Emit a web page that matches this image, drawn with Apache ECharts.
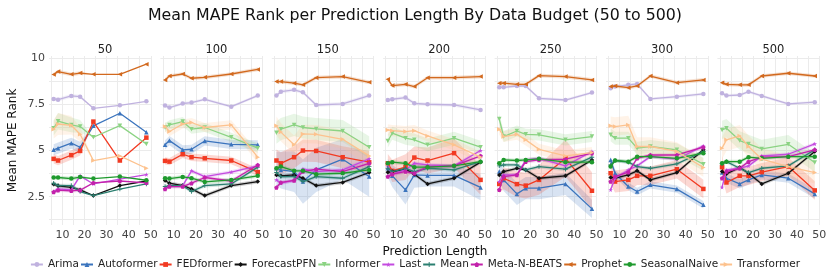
<!DOCTYPE html>
<html><head><meta charset="utf-8">
<script src="https://cdn.jsdelivr.net/npm/echarts@6/dist/echarts.min.js"></script>
<style>html,body{margin:0;padding:0;background:#fff}#c{width:830px;height:277px}</style>
</head><body><div id="c"></div>
<script>
const budgets = ['50','100','150','200','250','300','500'];
const predLengths = [6, 8, 14, 18, 24, 36, 48];
const xTickLabels = [10, 20, 30, 40, 50];
const yTickLabels = [2.5, 5, 7.5, 10];
const models = ['Arima','Autoformer','FEDformer','ForecastPFN','Informer','Last','Mean','Meta-N-BEATS','Prophet','SeasonalNaive','Transformer'];

const arima = [
 [7.80,7.76,7.96,7.92,7.29,7.45,7.67],[7.44,7.33,7.55,7.60,7.78,7.38,7.98],[7.98,8.19,8.29,8.16,7.47,7.53,7.98],
 [7.74,7.78,7.87,7.56,7.51,7.47,7.20],[8.43,8.43,8.50,8.50,7.83,7.74,8.14],[8.38,8.47,8.56,8.61,7.80,7.92,8.07],
 [8.10,7.98,8.01,8.19,7.96,7.53,7.62]];
const autoformer = [
 [5.04,5.13,5.40,5.18,6.34,7.02,5.99],[5.31,5.54,5.04,5.07,5.52,5.34,5.31],[4.04,3.95,3.86,3.32,3.95,4.53,3.59],
 [4.04,3.63,2.87,3.68,3.65,3.65,3.00],[3.86,3.41,2.65,2.96,2.96,3.19,1.84],[4.49,3.77,3.05,2.78,3.14,2.91,2.06],
 [3.81,3.50,3.19,3.41,3.68,3.50,2.65]];
const fedformer = [
 [4.55,4.46,4.75,4.98,6.57,4.46,5.70],[4.44,4.40,4.80,4.64,4.58,4.46,3.83],[4.46,4.31,4.64,5.00,4.98,4.64,4.37],
 [4.31,3.90,4.10,4.62,4.46,4.86,3.41],[3.19,3.50,3.18,3.10,3.41,4.58,2.82],[3.77,3.32,3.41,3.63,3.63,3.99,2.92],
 [4.10,3.27,3.63,3.63,3.83,4.13,2.84]];
const forecastPFN = [
 [3.18,3.09,3.00,2.87,2.56,3.10,3.35],[3.38,3.23,3.10,2.92,2.56,3.10,3.32],[3.68,3.63,3.68,3.50,3.10,3.27,3.81],
 [3.83,3.86,3.99,3.72,3.19,3.50,4.37],[3.68,3.86,4.04,3.95,3.50,3.63,4.49],[3.54,3.50,3.68,3.90,3.41,3.81,5.04],
 [3.86,3.74,4.08,3.77,3.19,3.77,4.95]];
const informer = [
 [6.21,6.59,6.39,6.30,5.72,6.35,5.36],[6.25,6.39,6.57,6.16,6.25,5.72,5.13],[5.97,6.16,6.39,6.25,6.17,6.06,5.18],
 [5.52,5.94,5.67,5.58,5.31,5.67,5.18],[6.71,5.76,6.06,5.88,5.85,5.58,5.76],[5.85,5.67,5.67,5.13,5.22,5.04,4.26],
 [6.12,6.21,5.54,5.36,5.09,5.34,4.35]];
const last = [
 [2.78,2.92,2.87,3.63,3.19,3.45,3.70],[2.92,3.10,3.10,3.90,3.59,3.83,4.17],[3.41,3.23,3.38,4.00,3.86,3.95,4.55],
 [4.13,3.72,3.95,4.31,4.22,4.17,5.00],[3.32,3.68,3.68,4.49,4.58,4.17,4.95],[2.87,3.50,3.95,4.17,4.67,4.53,5.25],
 [3.01,3.95,4.04,4.17,4.71,4.80,5.36]];
const mean = [
 [3.23,3.10,3.10,2.78,2.56,2.91,3.19],[3.05,3.10,3.10,2.78,3.10,3.19,4.10],[3.81,3.59,3.59,3.32,3.59,3.50,4.13],
 [4.04,3.86,4.04,3.86,4.04,3.95,4.40],[4.17,4.22,4.22,3.95,4.13,3.99,4.64],[4.22,4.46,4.37,4.13,4.04,4.28,4.95],
 [4.28,4.40,4.04,3.81,4.04,4.17,5.04]];
const metaNBeats = [
 [2.75,2.85,2.82,2.85,3.25,3.35,3.25],[2.92,3.05,3.05,3.23,3.54,3.35,4.22],[3.00,3.27,3.38,3.86,3.99,3.86,4.31],
 [3.59,3.72,3.86,3.77,4.13,4.17,4.71],[2.87,3.59,3.68,4.40,4.49,4.53,4.86],[3.32,3.59,3.83,4.58,4.76,4.76,5.18],
 [3.50,3.86,4.04,4.40,4.64,4.67,5.04]];
const prophet = [
 [9.12,9.28,9.13,9.20,9.13,9.13,9.68],[8.83,9.04,9.15,8.92,8.97,9.15,9.40],[8.74,8.74,8.65,8.56,8.95,9.01,8.70],
 [8.86,8.52,8.59,8.47,8.95,8.95,9.01],[8.65,8.65,8.59,8.59,9.06,9.01,8.83],[8.47,8.50,8.41,8.50,9.04,8.68,8.83],
 [8.68,8.59,8.56,8.56,9.04,9.19,9.04]];
const seasonalNaive = [
 [3.54,3.54,3.48,3.56,3.48,3.59,3.39],[3.50,3.48,3.57,3.50,3.30,3.41,3.63],[4.04,4.13,3.90,3.90,3.72,3.77,3.95],
 [4.31,4.37,4.31,4.10,4.10,4.17,4.40],[4.31,4.49,4.46,4.49,4.55,4.37,4.37],[4.13,4.46,4.40,4.67,4.67,4.58,4.86],
 [4.31,4.40,4.40,4.64,4.58,4.67,4.67]];
const transformer = [
 [6.16,6.44,6.37,5.88,4.46,4.71,4.04],[6.30,6.03,6.44,6.52,6.25,6.39,4.64],[6.34,6.00,5.31,5.90,5.88,5.61,4.71],
 [6.12,6.08,6.03,6.08,5.79,5.31,4.64],[6.16,5.76,5.88,5.58,5.07,4.71,4.89],[6.34,6.30,6.39,5.22,5.22,4.95,4.08],
 [5.13,5.58,5.79,5.22,4.53,4.13,3.81]];

// confidence half-widths
const arimaCI = [[0.1,0.1,0.1,0.1,0,0,0],[0.08,0.08,0.08,0.08,0.08,0.08,0.08],[0.1,0.1,0.1,0.1,0.1,0.1,0.1],[0.1,0.1,0.1,0.1,0.1,0.1,0.1],[0.08,0.08,0.08,0.08,0.08,0.08,0.08],[0.08,0.08,0.08,0.08,0.08,0.08,0.08],[0.08,0.08,0.08,0.08,0.08,0.08,0.08]];
const autoformerCI = [[0.3,0.3,0.3,0.3,0,0,0],[0.25,0.25,0.25,0.25,0.25,0.25,0.25],[0.9,1.0,1.1,1.2,1.2,1.1,1.1],[0.5,0.6,0.8,0.7,0.6,0.6,0.7],[0.5,0.6,0.6,0.6,0.6,0.6,0.5],[0.2,0.2,0.2,0.2,0.2,0.2,0.2],[0.25,0.25,0.25,0.25,0.25,0.25,0.25]];
const fedformerCI = [[0.25,0.25,0.25,0.25,0,0,0],[0.2,0.2,0.2,0.2,0.2,0.2,0.2],[0.6,0.6,0.6,0.6,0.6,0.6,0.6],[0.5,0.6,0.7,0.6,0.7,0.8,0.8],[0.5,0.6,0.7,0.7,0.8,1.0,1.0],[0.6,0.6,0.6,0.5,0.5,0.5,0.5],[0.6,0.6,0.6,0.5,0.5,0.5,0.5]];
const informerCI = [[0.4,0.45,0.4,0.35,0,0,0],[0.25,0.25,0.25,0.25,0.25,0.25,0.25],[0.6,0.6,0.6,0.6,0.6,0.6,0.6],[0.35,0.35,0.35,0.35,0.35,0.35,0.35],[0.3,0.3,0.3,0.3,0.3,0.3,0.3],[0.35,0.35,0.35,0.35,0.35,0.35,0.35],[0.5,0.5,0.5,0.5,0.5,0.5,0.5]];
const transformerCI = [[0.5,0.6,0.5,0.4,0,0,0],[0.25,0.25,0.25,0.25,0.25,0.25,0.3],[0.5,0.5,0.5,0.5,0.5,0.5,0.5],[0.3,0.3,0.3,0.3,0.3,0.3,0.3],[0.3,0.3,0.3,0.3,0.3,0.3,0.3],[0.5,0.5,0.5,0.5,0.5,0.5,0.5],[0.6,0.6,0.6,0.6,0.6,0.6,0.6]];
const smallCI = [[0.1,0.1,0.1,0.1,0,0,0],[0.1,0.1,0.1,0.1,0.1,0.1,0.1],[0.1,0.1,0.1,0.1,0.1,0.1,0.1],[0.1,0.1,0.1,0.1,0.1,0.1,0.1],[0.1,0.1,0.1,0.1,0.1,0.1,0.1],[0.1,0.1,0.1,0.1,0.1,0.1,0.1],[0.1,0.1,0.1,0.1,0.1,0.1,0.1]];

const values = {Arima:arima, Autoformer:autoformer, FEDformer:fedformer, ForecastPFN:forecastPFN, Informer:informer, Last:last, Mean:mean, 'Meta-N-BEATS':metaNBeats, Prophet:prophet, SeasonalNaive:seasonalNaive, Transformer:transformer};
const cis = {Arima:arimaCI, Autoformer:autoformerCI, FEDformer:fedformerCI, ForecastPFN:smallCI, Informer:informerCI, Last:smallCI, Mean:smallCI, 'Meta-N-BEATS':smallCI, Prophet:smallCI, SeasonalNaive:smallCI, Transformer:transformerCI};
const colors = {Arima:'#c0b2df', Autoformer:'#3b74bd', FEDformer:'#f23a22', ForecastPFN:'#111111', Informer:'#8bd383', Last:'#c44be0', Mean:'#2b7f70', 'Meta-N-BEATS':'#c321ab', Prophet:'#d2691e', SeasonalNaive:'#1f9a2e', Transformer:'#fdc28e'};
const symbols = {Arima:'circle', Autoformer:'triangle', FEDformer:'rect', ForecastPFN:'diamond',
  Informer:'path://M0,0 L10,0 L5,9 Z', Last:'path://M5,0 L6.2,3.6 L10,3.6 L6.9,5.8 L8.1,9.5 L5,7.2 L1.9,9.5 L3.1,5.8 L0,3.6 L3.8,3.6 Z',
  Mean:'path://M4,0 L6,0 L6,4 L10,4 L10,6 L6,6 L6,10 L4,10 L4,6 L0,6 L0,4 L4,4 Z', 'Meta-N-BEATS':'path://M5,0 L10,3.8 L8.1,10 L1.9,10 L0,3.8 Z',
  Prophet:'path://M10,0 L10,10 L0,5 Z', SeasonalNaive:'circle', Transformer:'path://M0,0 L10,5 L0,10 Z'};

const FONT = 'DejaVu Sans';
const L0 = 49, STEP = 111.4, W = 102, TOP = 56, H = 169;
const grid = [], xAxis = [], yAxis = [], series = [], title = [];
title.push({text:'Mean MAPE Rank per Prediction Length By Data Budget (50 to 500)', left:'center', top:3,
  textStyle:{fontFamily:FONT, fontSize:15.8, fontWeight:'normal', color:'#111'}});
budgets.forEach((b, i) => {
  const left = L0 + i * STEP;
  grid.push({left:left, top:TOP, width:W, height:H, containLabel:false});
  title.push({text:b, left:left + W/2, top:39, textAlign:'center',
    textStyle:{fontFamily:FONT, fontSize:11.5, fontWeight:'normal', color:'#222'}});
  xAxis.push({type:'value', gridIndex:i, min:3.9, max:50.1,
    axisLine:{show:false}, axisTick:{show:false, customValues:[5,10,15,20,25,30,35,40,45,50]},
    axisLabel:{customValues:xTickLabels, fontFamily:FONT, fontSize:11, color:'#444', margin:5},
    splitLine:{show:true, lineStyle:{color:'#ebebeb', width:1}}});
  yAxis.push({type:'value', gridIndex:i, min:0.965, max:10.125,
    axisLine:{show:false}, axisTick:{show:false, customValues:[1.25,2.5,3.75,5,6.25,7.5,8.75,10]},
    axisLabel:{show:i===0, customValues:yTickLabels, fontFamily:FONT, fontSize:11, color:'#444', margin:4},
    splitLine:{show:true, lineStyle:{color:'#ebebeb', width:1}},
    name: i===0 ? 'Mean MAPE Rank' : '', nameLocation:'middle', nameGap:30,
    nameTextStyle:{fontFamily:FONT, fontSize:12, color:'#111'}});
  models.forEach(m => {
    const v = values[m][i], ci = cis[m][i];
    series.push({type:'custom', name:'band-'+m, xAxisIndex:i, yAxisIndex:i, silent:true, z:1,
      data:[[predLengths[0], v[0]]],
      renderItem:(params, api) => {
        const pts = [];
        for (let k = 0; k < predLengths.length; k++) pts.push(api.coord([predLengths[k], v[k] + ci[k]]));
        for (let k = predLengths.length - 1; k >= 0; k--) pts.push(api.coord([predLengths[k], v[k] - ci[k]]));
        return {type:'polygon', shape:{points:pts}, style:{fill:colors[m], opacity:0.2}};
      }});
  });
  models.forEach((m, j) => {
    const v = values[m][i];
    series.push({type:'line', name:m, xAxisIndex:i, yAxisIndex:i, z:2+j,
      data: predLengths.map((x, k) => [x, v[k]]),
      symbol: symbols[m], symbolSize: 4.5, showSymbol:true,
      itemStyle:{color:colors[m]}, lineStyle:{color:colors[m], width:1.3}, emphasis:{disabled:true}});
  });
});

const chart = echarts.init(document.getElementById('c'), null, {renderer:'canvas'});
chart.setOption({
  animation:false, backgroundColor:'#fff',
  title: title, grid: grid, xAxis: xAxis, yAxis: yAxis, series: series,
  legend:{data: models, top:259, left:'center', itemWidth:12, itemHeight:6, itemGap:1, padding:0,
    textStyle:{fontFamily:FONT, fontSize:10.5, color:'#222'}},
  graphic:[{type:'text', x:435, y:246,
    style:{text:'Prediction Length', font:'12px "DejaVu Sans"', fill:'#111', align:'center'}}]
});
</script></body></html>
